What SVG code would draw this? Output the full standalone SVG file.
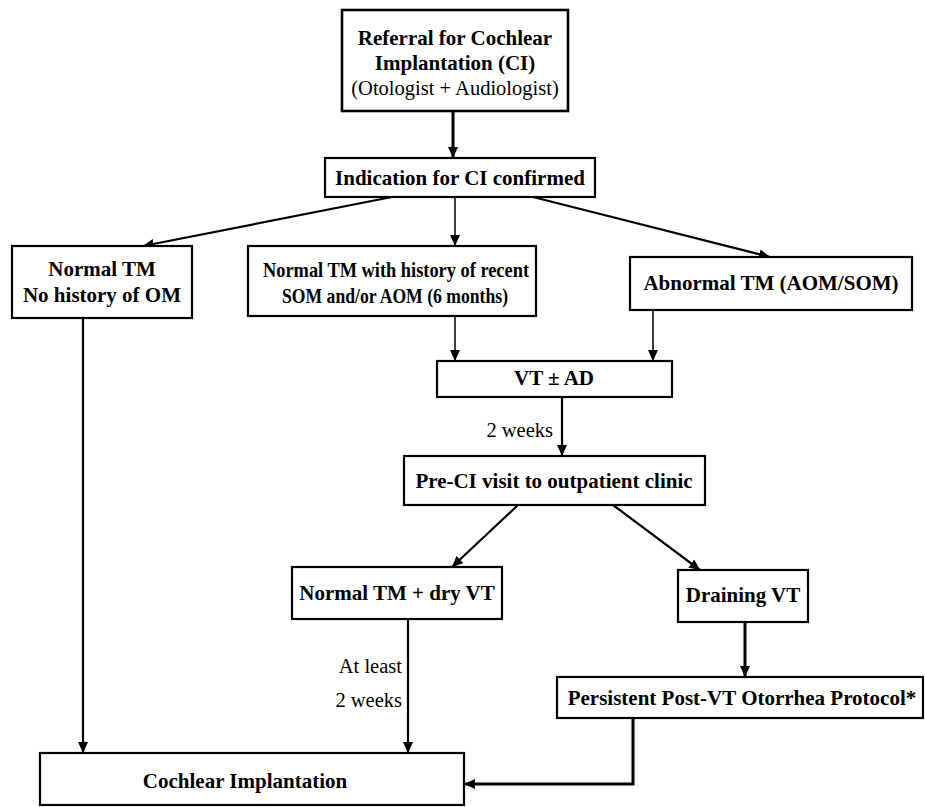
<svg xmlns="http://www.w3.org/2000/svg" width="925" height="807" viewBox="0 0 925 807">
<style>
.box{fill:#fff;stroke:#000;stroke-width:2.2}
.t{font-family:"Liberation Serif","Times New Roman",serif;font-weight:bold;font-size:21px;fill:#000;text-anchor:middle}
.r{font-family:"Liberation Serif","Times New Roman",serif;font-size:20.5px;fill:#000}
.thick{fill:none;stroke:#000;stroke-width:3;marker-end:url(#ah)}
.med{fill:none;stroke:#000;stroke-width:2.2;marker-end:url(#ah)}
.thin{fill:none;stroke:#000;stroke-width:1.5;marker-end:url(#ah)}
</style>
<defs>
<marker id="ah" markerUnits="userSpaceOnUse" markerWidth="12" markerHeight="10" refX="11" refY="5" orient="auto">
<path d="M0,0 L11,5 L0,10 z" fill="#000"/>
</marker>
</defs>
<rect width="925" height="807" fill="#fff"/>
<g id="connectors">
<line class="thick" x1="453" y1="111" x2="453" y2="158"/>
<line class="med" x1="392" y1="197" x2="143" y2="246"/>
<line class="thin" x1="455" y1="197" x2="455" y2="246"/>
<line class="med" x1="533" y1="197" x2="770" y2="257"/>
<line class="thin" x1="455" y1="316" x2="455" y2="361"/>
<line class="thin" x1="653" y1="310" x2="653" y2="361"/>
<line class="med" x1="562" y1="397" x2="562" y2="456"/>
<line class="med" x1="518" y1="505" x2="452" y2="567"/>
<line class="med" x1="613" y1="505" x2="700" y2="570"/>
<line class="med" x1="83" y1="318" x2="83" y2="753"/>
<line class="med" x1="408" y1="619" x2="408" y2="753"/>
<line class="thick" x1="745" y1="622" x2="745" y2="677"/>
<polyline class="thick" points="633,718 633,784 464,784"/>
<text class="r" x="553" y="437" text-anchor="end">2 weeks</text>
<text class="r" x="402" y="673" text-anchor="end">At least</text>
<text class="r" x="402" y="707" text-anchor="end">2 weeks</text>
</g>
<g id="referral">
<rect class="box" x="342" y="10" width="226" height="101" style="stroke-width:2.6"/>
<text class="t" x="455" y="45">Referral for Cochlear</text>
<text class="t" x="455" y="70">Implantation (CI)</text>
<text class="r" x="455" y="95" text-anchor="middle">(Otologist + Audiologist)</text>
</g>
<g id="indication">
<rect class="box" x="325" y="158" width="270" height="39"/>
<text class="t" x="460" y="185">Indication for CI confirmed</text>
</g>
<g id="normal-no-history">
<rect class="box" x="12" y="246" width="180" height="72"/>
<text class="t" x="102" y="276">Normal TM</text>
<text class="t" x="102" y="302">No history of OM</text>
</g>
<g id="normal-with-history">
<rect class="box" x="248" y="246" width="288" height="70"/>
<text class="t" x="396" y="277" style="font-size:22px" textLength="266" lengthAdjust="spacingAndGlyphs">Normal TM with history of recent</text>
<text class="t" x="395" y="303" style="font-size:22px" textLength="226" lengthAdjust="spacingAndGlyphs">SOM and/or AOM (6 months)</text>
</g>
<g id="abnormal">
<rect class="box" x="630" y="257" width="282" height="53"/>
<text class="t" x="771" y="290">Abnormal TM (AOM/SOM)</text>
</g>
<g id="vt-ad">
<rect class="box" x="437" y="361" width="235" height="36"/>
<text class="t" x="554" y="385">VT ± AD</text>
</g>
<g id="pre-ci">
<rect class="box" x="404" y="456" width="301" height="49"/>
<text class="t" x="554" y="488">Pre-CI visit to outpatient clinic</text>
</g>
<g id="dry-vt">
<rect class="box" x="292" y="567" width="210" height="52"/>
<text class="t" x="397" y="600">Normal TM + dry VT</text>
</g>
<g id="draining-vt">
<rect class="box" x="678" y="570" width="130" height="52"/>
<text class="t" x="743" y="602">Draining VT</text>
</g>
<g id="persistent">
<rect class="box" x="557" y="677" width="366" height="41"/>
<text class="t" x="742" y="705">Persistent Post-VT Otorrhea Protocol*</text>
</g>
<g id="cochlear">
<rect class="box" x="40" y="753" width="424" height="52"/>
<text class="t" x="245" y="788">Cochlear Implantation</text>
</g>
</svg>
